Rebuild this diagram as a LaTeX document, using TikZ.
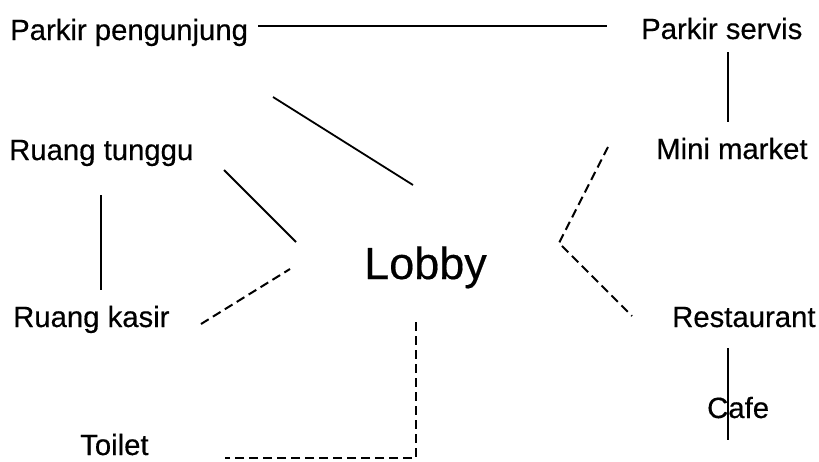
\documentclass[tikz,border=0pt]{standalone}
\usepackage{fontspec}
\setmainfont{Liberation Sans}
\newfontfamily\labelfont{Liberation Sans}[FakeBold=0.4]
\begin{document}
\begin{tikzpicture}[x=1pt,y=-1pt,
  lbl/.style={anchor=base west,inner sep=0pt,font=\labelfont\fontsize{29.3}{34}\selectfont},
  big/.style={anchor=base west,inner sep=0pt,font=\labelfont\fontsize{45}{52}\selectfont},
  solidline/.style={line width=1.8pt},
  dashline/.style={line width=2pt,dash pattern=on 9pt off 5pt}]
\useasboundingbox[fill=white] (0,0) rectangle (819,461);
% nodes
\node[lbl] (pp) at (10,40) {Parkir pengunjung};
\node[lbl] (ps) at (641,39) {Parkir servis};
\node[lbl] (mm) at (656,159) {Mini market};
\node[lbl] (rt) at (9,160) {Ruang tunggu};
\node[lbl] (rk) at (13,327) {Ruang kasir};
\node[big] (lb) at (364,279) {Lobby};
\node[lbl] (rs) at (672,327) {Restaurant};
\node[lbl] (cf) at (707,418) {Cafe};
\node[lbl] (tl) at (80,455) {Toilet};
% connector end points
\coordinate (pp-ps-a) at (258,26);
\coordinate (pp-ps-b) at (607,26);
\coordinate (ps-mm-a) at (728,52);
\coordinate (ps-mm-b) at (728,122);
\coordinate (pp-lb-a) at (273,97);
\coordinate (pp-lb-b) at (413,185);
\coordinate (rt-lb-a) at (224,170);
\coordinate (rt-lb-b) at (296,242);
\coordinate (rt-rk-a) at (101,195);
\coordinate (rt-rk-b) at (101,290);
\coordinate (rk-lb-a) at (201,324);
\coordinate (rk-lb-b) at (290,269);
\coordinate (lb-mm) at (608,147);
\coordinate (lb-corner) at (559,243);
\coordinate (lb-rs) at (632,316);
\coordinate (rs-cf-a) at (728,348);
\coordinate (rs-cf-b) at (728,440);
\coordinate (lb-tl-a) at (416,322);
\coordinate (lb-tl-c) at (416,458);
\coordinate (lb-tl-b) at (225,458);
% connectors
\draw[solidline] (pp-ps-a) -- (pp-ps-b);
\draw[solidline] (ps-mm-a) -- (ps-mm-b);
\draw[solidline] (pp-lb-a) -- (pp-lb-b);
\draw[solidline] (rt-lb-a) -- (rt-lb-b);
\draw[solidline] (rt-rk-a) -- (rt-rk-b);
\draw[dashline] (rk-lb-a) -- (rk-lb-b);
\draw[dashline] (lb-mm) -- (lb-corner) -- (lb-rs);
\draw[solidline] (rs-cf-a) -- (rs-cf-b);
\draw[dashline] (lb-tl-a) -- (lb-tl-c) -- (lb-tl-b);
\end{tikzpicture}
\end{document}
